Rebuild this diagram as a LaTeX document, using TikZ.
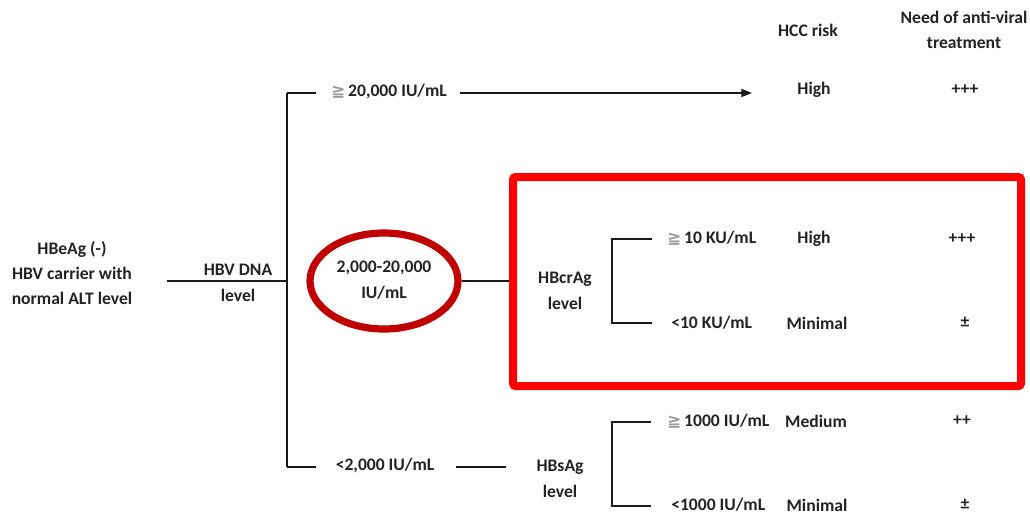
\documentclass[tikz,border=0pt]{standalone}
\usepackage{fontspec}
\setmainfont{Carlito}[BoldFont={Carlito Bold}]
\newfontfamily\symfont{DejaVu Sans}
\usetikzlibrary{arrows.meta,shapes.geometric}
\definecolor{boxred}{RGB}{255,0,0}
\definecolor{ellred}{RGB}{192,0,0}
\definecolor{txt}{RGB}{35,35,35}
\newcommand{\gesym}{{\color{black!40}\symfont\fontsize{12.5}{14}\selectfont ≧}}
\tikzset{
  lbl/.style={inner sep=0pt, align=center, text=txt, font=\bfseries\fontsize{13.2}{19}\selectfont},
  ln/.style={line width=1.6pt, draw=black!90},
}
\begin{document}
\begin{tikzpicture}[x=0.75pt,y=-0.75pt]
\useasboundingbox (0,0) rectangle (1030,521);
% headers
\node[lbl] (hcc) at (808,30) {HCC risk};
\node[lbl] (need) at (964,30) {Need of anti-viral\\treatment};
% left
\node[lbl] (start) at (72,273) {HBeAg (-)\\HBV carrier with\\normal ALT level};
\coordinate (m0) at (167,281);
\coordinate (m1) at (287,281);
\node[lbl] (dna) at (238,283) {HBV DNA\\level};
\draw[ln] (m0) -- (m1);
\coordinate (vt) at (287,93);
\coordinate (vb) at (287,467);
\draw[ln] (vt) -- (vb);
% top branch
\coordinate (t1) at (316,93);
\draw[ln] (vt) -- (t1);
\node[lbl, anchor=west] (hi20) at (331,92) {\gesym\,20,000 IU/mL};
\coordinate (a0) at (460,93);
\coordinate (a1) at (752,93);
\draw[ln, line width=1.3pt, -{Triangle[length=8pt,width=6pt]}] (a0) -- (a1);
\node[lbl] (high1) at (814,90) {High};
\node[lbl] (p1) at (965,90) {+++};
% middle branch
\node[draw=ellred, line width=5.4pt, ellipse, inner sep=0pt, minimum width=111pt, minimum height=72pt] (mid) at (384,281) {};
\node[lbl] (midtxt) at (384,280) {2,000-20,000\\IU/mL};
\coordinate (boxl) at (513,281);
\draw[ln] (mid.east) -- (boxl);
\draw[draw=boxred, line width=6pt, rounded corners=2pt] (513,177) rectangle (1021,386);
\node[lbl] (hbcr) at (565,291) {HBcrAg\\level};
\coordinate (c0) at (612,239);
\coordinate (c1) at (612,323);
\draw[ln] (652,239) -- (c0) -- (c1) -- (652,323);
\node[lbl, anchor=west] (k10) at (667,238) {\gesym\,10 KU/mL};
\node[lbl, anchor=west] (l10) at (671,323) {<10 KU/mL};
\node[lbl] (high2) at (814,239) {High};
\node[lbl] (min1) at (817,323) {Minimal};
\node[lbl] (p2) at (962,239) {+++};
\node[lbl] (pm1) at (965,322) {±};
% bottom branch
\coordinate (b1) at (316,467);
\draw[ln] (vb) -- (b1);
\node[lbl] (lo2) at (385,466) {<2,000 IU/mL};
\coordinate (bl0) at (456,467);
\coordinate (bl1) at (506,467);
\draw[ln] (bl0) -- (bl1);
\node[lbl] (hbs) at (560,479) {HBsAg\\level};
\coordinate (s0) at (612,422);
\coordinate (s1) at (612,506);
\draw[ln] (651,422) -- (s0) -- (s1) -- (651,506);
\node[lbl, anchor=west] (k1000) at (667,421) {\gesym\,1000 IU/mL};
\node[lbl, anchor=west] (l1000) at (671,505) {<1000 IU/mL};
\node[lbl] (med) at (816,421) {Medium};
\node[lbl] (min2) at (817,505) {Minimal};
\node[lbl] (p3) at (962,421) {++};
\node[lbl] (pm2) at (965,504) {±};
\end{tikzpicture}
\end{document}
